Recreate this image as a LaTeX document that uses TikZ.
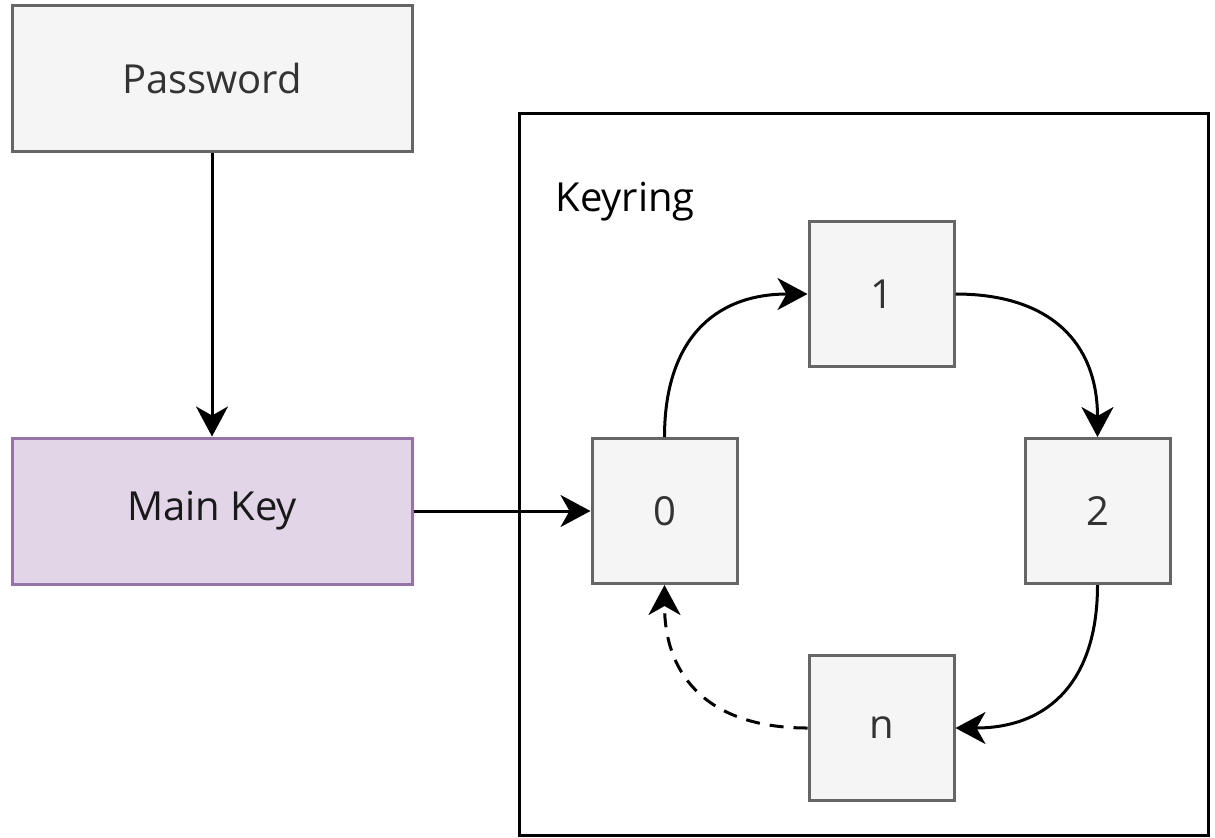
\documentclass[tikz,border=0pt]{standalone}
\usepackage{fontspec}
\setmainfont{Open Sans}
\usetikzlibrary{positioning,calc,arrows.meta}
\definecolor{boxgrey}{HTML}{F5F5F5}
\definecolor{edgegrey}{HTML}{666666}
\definecolor{keyfill}{HTML}{E1D5E7}
\definecolor{keyedge}{HTML}{9673A6}
\definecolor{textgrey}{HTML}{333333}

\begin{document}
\begin{tikzpicture}[
		plainbox/.style={draw=edgegrey, fill=boxgrey, line width=1.5pt, text=textgrey,
			minimum width=200pt, minimum height=73pt, font=\fontsize{20pt}{24pt}\selectfont},
		keybox/.style={draw=keyedge, fill=keyfill, line width=1.5pt, text=black!90,
			minimum width=200pt, minimum height=73pt, font=\fontsize{20pt}{24pt}\selectfont},
		ringbox/.style={draw=edgegrey, fill=boxgrey, line width=1.5pt, text=textgrey,
			minimum size=72.5pt, font=\fontsize{20pt}{24pt}\selectfont},
		link/.style={line width=1.5pt, -{Stealth[length=15pt, width=16pt, inset=4.5pt]}}]
		\useasboundingbox (0,0) rectangle (607.5pt,-418.5pt);
		% keyring container
		\node[draw, line width=1.5pt, minimum width=344.5pt, minimum height=361pt] (keyring) at (431.75pt,-237pt) {};
		\node[anchor=west, font=\fontsize{20pt}{24pt}\selectfont] (ringlabel) at ($(keyring.north west)+(15.5pt,-45pt)$) {Keyring};
		% left column
		\node[plainbox] (password) at (106pt,-39pt) {Password};
		\node[keybox, below=142pt of password] (mainkey) {Main Key};
		% ring of keys
		\node[ringbox, right=88.5pt of mainkey] (k0) {0};
		\node[ringbox, above right=34.5pt and 34.5pt of k0] (k1) {1};
		\node[ringbox, right=142.5pt of k0] (k2) {2};
		\node[ringbox, below right=34.5pt and 34.5pt of k0] (kn) {n};
		\draw[link] (password) -- (mainkey);
		\draw[link] (mainkey) -- (k0);
		\draw[link] (k0.north) to[out=90, in=180, looseness=1.2] (k1.west);
		\draw[link] (k1.east) to[out=0, in=90, looseness=1.2] (k2.north);
		\draw[link] (k2.south) to[out=-90, in=0, looseness=1.2] (kn.east);
		\draw[link, dashed, dash pattern=on 7pt off 5pt] (kn.west) to[out=180, in=-90, looseness=1.2] (k0.south);
	\end{tikzpicture}
\end{document}
